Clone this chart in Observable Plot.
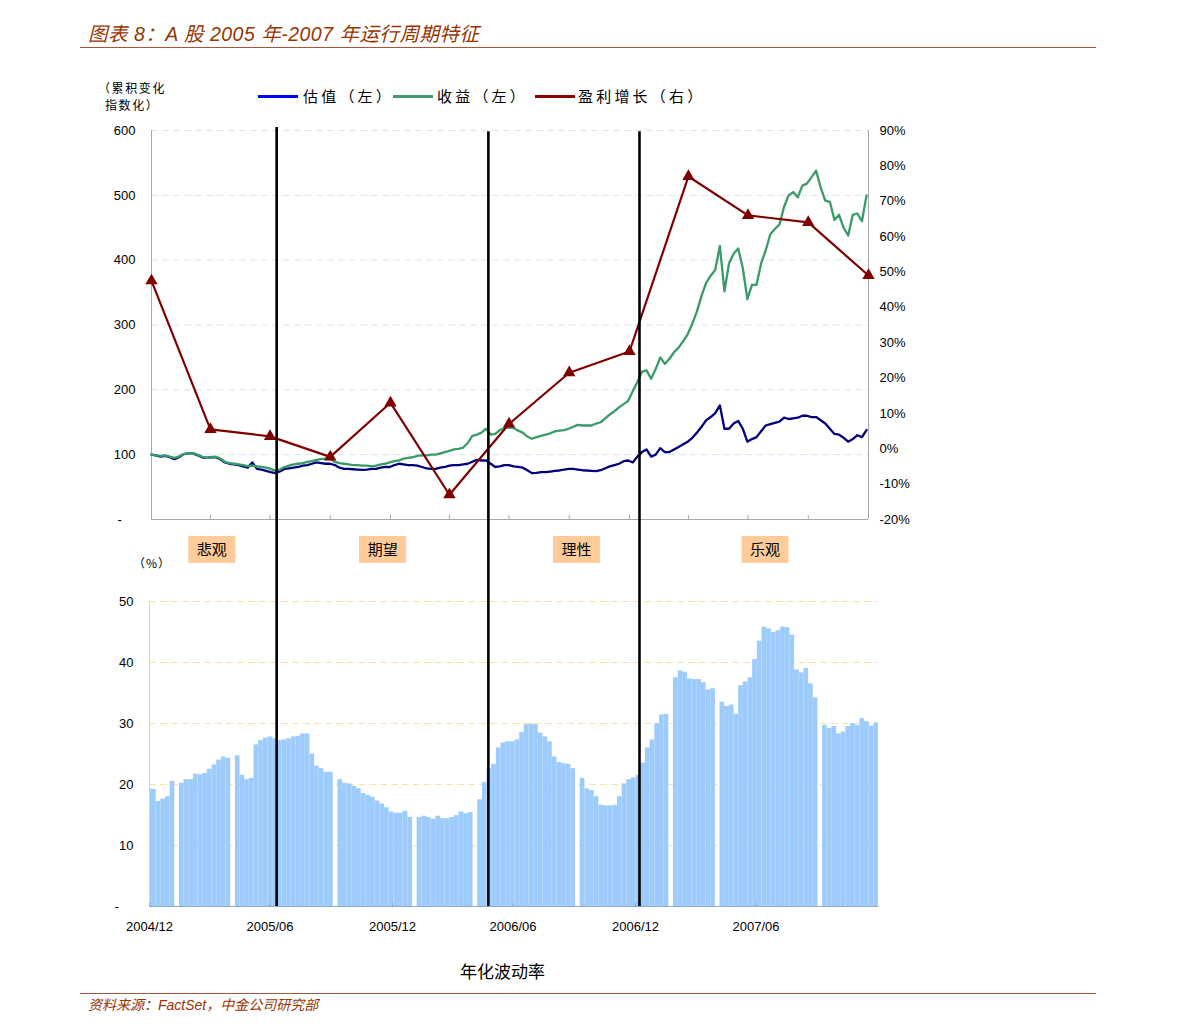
<!DOCTYPE html>
<html lang="zh">
<head>
<meta charset="utf-8">
<script src="https://cdn.jsdelivr.net/npm/d3@7"></script>
<script src="https://cdn.jsdelivr.net/npm/@observablehq/plot@0.6"></script>
<style>
html,body{margin:0;padding:0;background:#fff;}
#root{position:relative;width:1191px;height:1035px;overflow:hidden;background:#fff;}
.t{position:absolute;white-space:nowrap;line-height:1;}
.cjk{font-family:"Noto Sans CJK SC","Liberation Sans",sans-serif;color:#000;}
.brown{color:#993300;font-style:italic;font-family:"Liberation Sans","Noto Sans CJK SC",sans-serif;}
.hrule{position:absolute;left:80px;width:1016px;height:1px;background:#a9573a;}
.sw{position:absolute;height:3px;width:40px;}
.chart{position:absolute;left:0;width:1000px;}
</style>
</head>
<body>
<div id="root">
  <div class="t brown" style="left:88px;top:25px;font-size:19.5px;letter-spacing:0.5px;">图表 8：A 股 2005 年-2007 年运行周期特征</div>
  <div class="hrule" style="top:47px;"></div>
  <div class="t cjk" style="left:98px;top:82px;font-size:12px;letter-spacing:1.6px;">（累积变化</div>
  <div class="t cjk" style="left:105px;top:99px;font-size:12px;letter-spacing:1.6px;">指数化）</div>
  <div id="legend"></div>
  <div id="topchart" class="chart" style="top:120px;"></div>
  <div id="botchart" class="chart" style="top:555px;"></div>
  <div class="t cjk" style="left:133px;top:557px;font-size:12px;letter-spacing:1px;">（%）</div>
  <div class="t cjk" style="left:460px;top:962px;font-size:17px;">年化波动率</div>
  <div class="hrule" style="top:993px;"></div>
  <div class="t brown" style="left:88px;top:998px;font-size:14px;">资料来源：FactSet，中金公司研究部</div>
</div>
<script>
// ---------------- DATA ----------------
const startDate = "2004-12-31";
const endDate = "2007-12-31";
// weekly samples (every 7 days from startDate), cumulative index
const valuation = [
 100,99,97,98,96,93,96,101,102,102,
 99,96,95,96,96,93,88,86,85,84,
 82,80,88,78,77,75,73,71.5,74,78,
 79,80,81,83,84,86,88,87,86,86,
 84,80,78,78,77.5,77,76.6,77,78,78,
 80,81,81,84,86,85,84,84,83,81,
 79,78,78,80,81,83,84,84,85,86,
 89,92,91,91,86,81,82,84,84,82,
 81,80,76,71.5,72,73,73,74,75,75.6,
 77,78,78,77,76,75.6,75,74.5,76,79,
 82,84,86,90,91,88,97,104,108,97,
 100,110,104,104,108,112,116,120,126,134,
 143,153,158,164,176,140,140,148,152,140,
 120,124,127,136,145,147,149,151,157,155,
 156,157,160,160,158,158,153,148,140,132,
 131,126,120,124,130,127,138];
const returns = [
 100,99,98,99,97,95,97,101,102,102.5,
 100,97,95,96,97,94,89,87,86,85,
 84,82.5,83,82,81,80,78,75.5,77,81,
 83,85,86,87,89,90,92,93,94,93,
 89,87,86,85,84,84,83,83,82,83,
 85,86,88,90,91,94,95,96,98,99,
 99,100,100,102,104,106,108,109,111,118,
 129,131,134,140,131,132,138,141,142,141,
 137,134,128,124.5,127,129,131,133,136,137,
 138,140,143,146,145,145,145,148,150,156,
 162,167,173,178,183,198,212,228,230,217,
 232,250,240,248,258,265,275,286,302,321,
 345,365,376,385,422,352,395,410,418,388,
 340,362,362,395,415,440,448,455,482,500,
 505,497,515,518,528,538,512,492,490,462,
 470,450,438,470,472,460,500];
// quarterly earnings growth (%)
const growthDates = ["2004-12-31","2005-03-31","2005-06-30","2005-09-30","2005-12-31","2006-03-31","2006-06-30","2006-09-30","2006-12-31","2007-03-31","2007-06-30","2007-09-30","2007-12-31"];
const growth = [47.5,5.5,3.5,-2.3,13,-13,7,21.5,27.5,77,66,64,49];
// weekly annualised volatility (%), weeks starting Monday volWeekStart; null = market holiday
const volWeekStart = "2004-12-27";
const volatility = [
 19.3,19.2,17.2,17.6,18.0,20.5,null,20.2,20.8,20.8,
 21.7,21.6,21.8,22.5,23.2,24.0,24.5,24.3,null,24.7,
 21.5,20.8,21.0,26.5,27.2,27.6,27.8,27.5,27.2,27.3,
 27.5,27.8,27.9,28.3,28.3,25.0,23.0,22.6,22.0,22.0,
 null,20.8,20.2,20.1,19.7,19.3,18.5,18.2,17.9,17.3,
 16.8,16.2,15.5,15.3,15.3,15.6,14.6,null,14.6,14.8,
 14.6,14.3,14.8,14.4,14.4,14.6,14.9,15.5,15.2,15.4,
 null,17.5,20.3,22.6,23.3,26.0,26.8,27.0,27.0,27.3,
 28.5,29.8,29.9,29.8,28.4,27.8,27.0,24.5,23.6,23.4,
 23.3,22.6,null,21.0,19.3,19.0,18.0,16.6,16.5,16.5,
 16.6,18.0,20.1,20.8,21.1,21.5,23.5,26.0,27.3,30.0,
 31.4,31.5,null,37.5,38.6,38.4,37.3,37.2,37.2,36.7,
 35.5,35.7,null,33.5,32.8,33.0,31.5,36.2,36.8,37.5,
 40.5,43.5,45.8,45.5,44.9,45.2,45.8,45.7,44.5,38.8,
 38.3,39.0,36.5,34.2,null,29.7,29.2,29.5,28.3,28.6,
 29.5,30.0,29.7,30.8,30.3,29.6,30.1];
const phaseNames = ["悲观","期望","理性","乐观"];
const phaseLabelDates = ["2005-04-02","2005-12-19","2006-10-11","2007-07-26"];
const phaseBreaks = ["2005-07-10","2006-05-24","2007-01-06"];
const phaseRuleTop = [127.7,127,127];
const leftTicks = [100,200,300,400,500,600];
const rightTicks = [-20,-10,0,10,20,30,40,50,60,70,80,90];
const volTicks = [10,20,30,40,50];
const xLabelDates = ["2004-12-31","2005-06-30","2005-12-31","2006-06-30","2006-12-31","2007-06-30"];
const seriesNames = ["估值（左）","收益（左）","盈利增长（右）"];
const legendColors = ["#0000ff","#3c9c6c","#8b0000"];
const lineColors = ["#00007f","#3a9a68","#800000"];

// ---------------- BUILD ----------------
const parse = d3.utcParse("%Y-%m-%d");
const x0 = parse(startDate), x1 = parse(endDate);
const weekDates = valuation.map((_, i) => d3.utcDay.offset(x0, 7 * i));
const valData = valuation.map((v, i) => ({date: weekDates[i], v}));
const retData = returns.map((v, i) => ({date: weekDates[i], v}));
const growthData = growth.map((g, i) => ({date: parse(growthDates[i]), g}));
const vw0 = parse(volWeekStart);
const volData = volatility.map((v, i) => ({s: d3.utcDay.offset(vw0, 7 * i), e: d3.utcDay.offset(vw0, 7 * i + 7), v}))
  .filter(d => d.v != null);
const phases = phaseNames.map((n, i) => ({name: n, date: parse(phaseLabelDates[i])}));
const breaks = phaseBreaks.map((d, i) => ({date: parse(d), top: phaseRuleTop[i]}));
const toLeft = p => (p + 20) / 110 * 600;   // right axis (%) -> left axis units
const fromLeft = v => v / 600 * 110 - 20;

// legend
const legendPos = [[258, 303], [393, 437], [535, 578]];
const lg = document.getElementById("legend");
seriesNames.forEach((n, i) => {
  const sw = document.createElement("div");
  sw.className = "sw";
  sw.style.left = legendPos[i][0] + "px"; sw.style.top = "95px"; sw.style.background = legendColors[i];
  lg.appendChild(sw);
  const tx = document.createElement("div");
  tx.className = "t cjk";
  tx.style.left = legendPos[i][1] + "px"; tx.style.top = "88px"; tx.style.fontSize = "15px"; tx.style.letterSpacing = "3.2px";
  tx.textContent = n;
  lg.appendChild(tx);
});

const baseStyle = {background: "none", overflow: "visible", fontFamily: "Liberation Sans, Arial, sans-serif", fontSize: "13px", color: "#000"};

const topPlot = Plot.plot({
  width: 1000, height: 470,
  marginTop: 10, marginBottom: 71, marginLeft: 151, marginRight: 132,
  style: baseStyle,
  x: {type: "utc", domain: [x0, x1]},
  y: {domain: [0, 600]},
  marks: [
    Plot.gridY(leftTicks, {stroke: "#d5e5f5", strokeOpacity: 1, strokeDasharray: "7,4"}),
    Plot.ruleX([x0, x1], {stroke: "#a8a8a8"}),
    Plot.ruleY([0], {stroke: "#a8a8a8"}),
    Plot.axisX(growthDates.map(parse), {tickSize: 4, dy: -4, stroke: "#a8a8a8", tickFormat: () => "", label: null}),
    Plot.axisY(leftTicks, {anchor: "left", tickSize: 0, tickPadding: 16, label: null}),
    Plot.text([0], {y: d => d, frameAnchor: "left", dx: -34, text: () => "-", fontSize: 13}),
    Plot.axisY(rightTicks.map(toLeft), {anchor: "right", tickSize: 0, tickPadding: 11, label: null,
      tickFormat: d => Math.round(fromLeft(d)) + "%"}),
    Plot.line(valData, {x: "date", y: "v", stroke: lineColors[0], strokeWidth: 2.3}),
    Plot.line(retData, {x: "date", y: "v", stroke: lineColors[1], strokeWidth: 2.3}),
    Plot.line(growthData, {x: "date", y: d => toLeft(d.g), stroke: lineColors[2], strokeWidth: 2.2}),
    Plot.dot(growthData, {x: "date", y: d => toLeft(d.g), symbol: "triangle", r: 4.6, fill: lineColors[2], stroke: "none"}),
    Plot.text(phases, {x: "date", y: () => -48, text: "name", fontSize: 15, fontFamily: "Noto Sans CJK SC", fill: "#000"})
  ]
});
document.getElementById("topchart").appendChild(topPlot);

// background boxes behind phase names
const ns = "http://www.w3.org/2000/svg";
topPlot.querySelectorAll("text").forEach(t => {
  if (!phaseNames.includes(t.textContent)) return;
  const b = t.getBBox();
  const cx = b.x + b.width / 2, cy = b.y + b.height / 2;
  const r = document.createElementNS(ns, "rect");
  r.setAttribute("x", cx - 23.5); r.setAttribute("y", cy - 13);
  r.setAttribute("width", 47); r.setAttribute("height", 27);
  r.setAttribute("fill", "#ffcc99");
  const tr = t.getAttribute("transform");
  if (tr) r.setAttribute("transform", tr);
  t.parentNode.insertBefore(r, t);
});

const botPlot = Plot.plot({
  width: 1000, height: 375,
  marginTop: 46, marginBottom: 24, marginLeft: 149, marginRight: 122,
  style: baseStyle,
  x: {type: "utc", domain: [x0, x1]},
  y: {domain: [0, 50]},
  marks: [
    Plot.gridY(volTicks, {stroke: "#f4e3a2", strokeOpacity: 1, strokeDasharray: "7,4"}),
    Plot.rect(volData, {x1: "s", x2: "e", y1: 0, y2: "v", fill: "#9dcbfb", clip: true}),
    Plot.ruleX([x0], {stroke: "#d6d6d6"}),
    Plot.ruleY([0], {stroke: "#8ea9cc"}),
    Plot.axisY(volTicks, {anchor: "left", tickSize: 0, tickPadding: 16, label: null}),
    Plot.text([0], {y: d => d, frameAnchor: "left", dx: -35, text: () => "-", fontSize: 13}),
    Plot.axisX(xLabelDates.map(parse), {tickSize: 0, tickPadding: 15, label: null, tickFormat: d3.utcFormat("%Y/%m")}),
    Plot.axisX(xLabelDates.map(parse), {tickSize: 3, dy: -3, stroke: "#8ea9cc", tickFormat: () => "", label: null}),
    Plot.ruleX(breaks, {x: "date", y1: 0, y2: "top", stroke: "#000", strokeWidth: 2.6})
  ]
});
document.getElementById("botchart").appendChild(botPlot);
</script>
</body>
</html>
